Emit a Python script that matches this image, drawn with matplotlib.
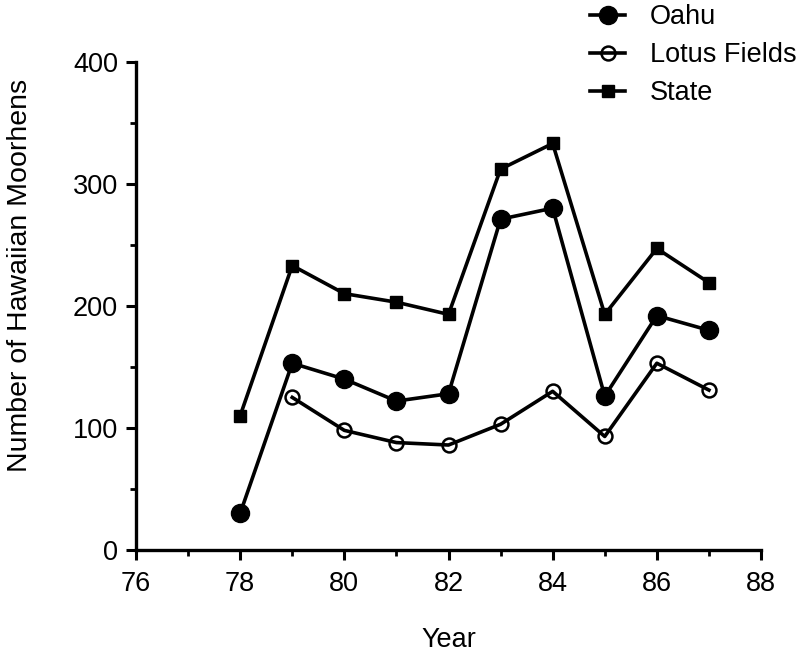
import matplotlib
matplotlib.use("Agg")
import matplotlib.pyplot as plt
from matplotlib.ticker import MultipleLocator

plt.rcParams['font.family'] = ['Liberation Sans', 'DejaVu Sans']
plt.rcParams['font.size'] = 19.5

years_oahu = [78, 79, 80, 81, 82, 83, 84, 85, 86, 87]
oahu = [30, 153, 140, 122, 128, 271, 280, 126, 192, 180]
years_lotus = [79, 80, 81, 82, 83, 84, 85, 86, 87]
lotus = [125, 98, 88, 86, 103, 130, 93, 153, 131]
years_state = [78, 79, 80, 81, 82, 83, 84, 85, 86, 87]
state = [110, 233, 210, 203, 193, 312, 333, 193, 247, 219]

fig = plt.figure(figsize=(8.06, 6.55), dpi=100)
ax = fig.add_axes([136/806, 1-550/655, (761-136)/806, (550-61.7)/655])

lw = 2.6
ax.plot(years_oahu, oahu, color='black', lw=lw, marker='o', ms=13, label='Oahu', clip_on=False)
ax.plot(years_lotus, lotus, color='black', lw=lw, marker='o', ms=10, mfc='none', mew=1.8,
        label='Lotus Fields', clip_on=False)
ax.plot(years_state, state, color='black', lw=lw, marker='s', ms=9, label='State', clip_on=False)

ax.set_xlim(76, 88)
ax.set_ylim(0, 400)
ax.xaxis.set_major_locator(MultipleLocator(2))
ax.xaxis.set_minor_locator(MultipleLocator(1))
ax.yaxis.set_major_locator(MultipleLocator(100))
ax.yaxis.set_minor_locator(MultipleLocator(50))
for s in ['top', 'right']:
    ax.spines[s].set_visible(False)
for s in ['left', 'bottom']:
    ax.spines[s].set_linewidth(2.4)
ax.tick_params(which='major', direction='out', length=7, width=2.2, pad=8)
ax.tick_params(which='minor', direction='out', length=4.5, width=2.0)
ax.tick_params(axis='y', pad=6)

ax.set_xlabel('Year', labelpad=22)
ax.set_ylabel('Number of Hawaiian Moorhens', fontsize=20.5, va='center')
ax.yaxis.set_label_coords((20 - 136) / 625, (550 - 275) / 488.3)

leg = fig.legend(loc='upper left', bbox_to_anchor=(590/806, 1 - 4/655), frameon=False,
                 borderpad=0, borderaxespad=0, handlelength=1.3, handletextpad=0.9,
                 labelspacing=0.45)

fig.savefig('out.png', dpi=100)
